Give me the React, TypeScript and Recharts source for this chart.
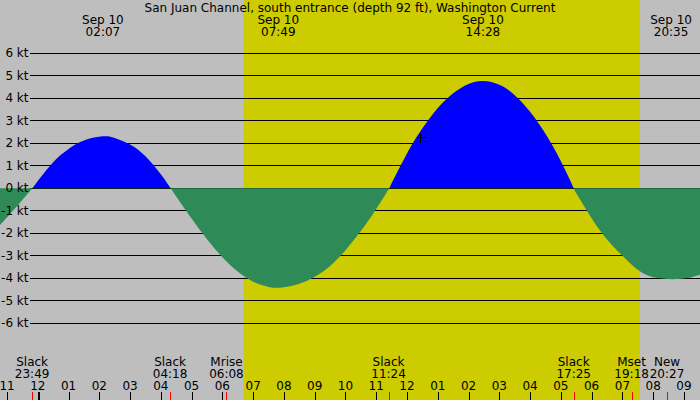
import {
  ComposedChart,
  Area,
  XAxis,
  YAxis,
  ReferenceArea,
  ReferenceLine,
  ReferenceDot,
} from 'recharts';

// hours relative to Sep 10 00:00, current in knots
const hours = [
  -1.2275, -0.9, -0.55, -0.178,
  0.0, 0.5, 1.0, 1.5, 2.12, 2.5, 3.0, 3.5, 4.0, 4.32,
  4.5, 5.0, 5.5, 6.0, 6.5, 7.0, 7.5, 7.775, 8.0, 8.5, 9.0, 9.5, 10.0, 10.5, 11.0, 11.424,
  11.5, 12.0, 12.5, 13.0, 13.5, 14.0, 14.479, 15.0, 15.5, 16.0, 16.5, 17.0, 17.418,
  17.5, 18.0, 18.5, 19.0, 19.25, 19.5, 19.75, 20.0, 20.3, 20.65, 21.0, 21.25, 21.522,
];
const knots = [
  -1.63, -1.14, -0.6, 0,
  0.32, 1.16, 1.75, 2.13, 2.31, 2.24, 1.95, 1.42, 0.62, 0,
  -0.36, -1.345, -2.26, -3.06, -3.7, -4.15, -4.385, -4.42, -4.4, -4.24, -3.93, -3.45, -2.75, -1.9, -0.92, 0,
  0.22, 1.55, 2.67, 3.57, 4.23, 4.64, 4.77, 4.6, 4.14, 3.4, 2.42, 1.2, 0,
  -0.22, -1.33, -2.27, -3.0, -3.33, -3.62, -3.83, -3.95, -4.01, -4.04, -4.01, -3.95, -3.84,
];

const hourTicks = [-1, 0, 1, 2, 3, 4, 5, 6, 7, 8, 9, 10, 11, 12, 13, 14, 15, 16, 17, 18, 19, 20, 21];
const hourLabels = ['11', '12', '01', '02', '03', '04', '05', '06', '07', '08', '09', '10', '11', '12', '01', '02', '03', '04', '05', '06', '07', '08', '09'];

const knotTicks = [-6, -5, -4, -3, -2, -1, 0, 1, 2, 3, 4, 5, 6];

const eventTimes = [-0.183, 4.3, 6.133, 11.4, 17.417, 19.3, 20.45];
const eventNames = ['Slack', 'Slack', 'Mrise', 'Slack', 'Slack', 'Mset', 'New'];
const eventClock = ['23:49', '04:18', '06:08', '11:24', '17:25', '19:18', '20:27'];

const extremeTimes = [2.117, 7.817, 14.467, 20.583];
const extremeClock = ['02:07', '07:49', '14:28', '20:35'];
const extremeDate = 'Sep 10';

const sunriseHour = 6.69;
const sunsetHour = 19.57;

const nowHour = 12.42;
const nowKnots = 2.28;

const TITLE = 'San Juan Channel, south entrance (depth 92 ft), Washington Current';

const W = 700;
const H = 400;
const X0 = -1.2275;
const X1 = 21.522;
const Y0 = -9.409;
const Y1 = 8.369;
const GRID_START = -0.2525;
const ZERO_FRAC = Y1 / (Y1 - Y0);

const FONT = { fontFamily: 'DejaVu Sans', fontSize: 12, fill: '#000' };

const data = hours.map((t, i) => ({ t, v: knots[i] }));

function HourTick(props: any) {
  const { x, payload } = props;
  const i = hourTicks.indexOf(payload.value);
  const px = Math.round(x) + 0.5;
  const midnight = payload.value === 0;
  return (
    <g>
      <text x={x} y={389.5} textAnchor="middle" {...FONT}>
        {hourLabels[i]}
      </text>
      <line
        x1={midnight ? px + 0.5 : px}
        x2={midnight ? px + 0.5 : px}
        y1={392}
        y2={400}
        stroke="#000"
        strokeWidth={midnight ? 2 : 1}
        shapeRendering="crispEdges"
      />
    </g>
  );
}

function EventTick(props: any) {
  const { x, payload } = props;
  const i = eventTimes.indexOf(payload.value);
  const px = Math.round(x) + 0.5;
  return (
    <g>
      <text x={x} y={366} textAnchor="middle" {...FONT}>
        {eventNames[i]}
      </text>
      <text x={x} y={377.5} textAnchor="middle" {...FONT}>
        {eventClock[i]}
      </text>
      <line x1={px} x2={px} y1={392} y2={400} stroke="#ff0000" strokeWidth={1} shapeRendering="crispEdges" />
    </g>
  );
}

function ExtremeTick(props: any) {
  const { x, payload } = props;
  const i = extremeTimes.indexOf(payload.value);
  return (
    <g>
      <text x={x} y={24} textAnchor="middle" {...FONT}>
        {extremeDate}
      </text>
      <text x={x} y={36} textAnchor="middle" {...FONT}>
        {extremeClock[i]}
      </text>
    </g>
  );
}

function KnotTick(props: any) {
  const { y, payload } = props;
  return (
    <text x={28.5} y={y + 4} textAnchor="end" {...FONT}>
      {`${payload.value} kt`}
    </text>
  );
}

function NowMarker(props: any) {
  const { cx, cy } = props;
  const x = Math.round(cx) + 0.5;
  const y = Math.round(cy) + 0.5;
  return (
    <g stroke="#000" strokeWidth={1} shapeRendering="crispEdges">
      <line x1={x - 4} x2={x + 5} y1={y} y2={y} />
      <line x1={x} x2={x} y1={y - 4} y2={y + 5} />
    </g>
  );
}

export default function App() {
  return (
    <div style={{ position: 'fixed', left: 0, top: 0, width: W, height: H, background: '#bebebe' }}>
      <ComposedChart width={W} height={H} data={data} margin={{ top: -1, right: 0, bottom: -2, left: -1 }}>
        <defs>
          <linearGradient id="flow" gradientUnits="userSpaceOnUse" x1="0" y1="0" x2="0" y2={H}>
            <stop offset={ZERO_FRAC} stopColor="#0000ff" />
            <stop offset={ZERO_FRAC} stopColor="#2e8b57" />
          </linearGradient>
        </defs>
        <XAxis
          xAxisId="hours"
          dataKey="t"
          type="number"
          domain={[X0, X1]}
          allowDataOverflow
          ticks={hourTicks}
          interval={0}
          height={1}
          axisLine={false}
          tickLine={false}
          tick={HourTick}
        />
        <XAxis
          xAxisId="events"
          dataKey="t"
          type="number"
          domain={[X0, X1]}
          allowDataOverflow
          ticks={eventTimes}
          interval={0}
          height={1}
          axisLine={false}
          tickLine={false}
          tick={EventTick}
        />
        <XAxis
          xAxisId="extremes"
          orientation="top"
          dataKey="t"
          type="number"
          domain={[X0, X1]}
          allowDataOverflow
          ticks={extremeTimes}
          interval={0}
          height={1}
          axisLine={false}
          tickLine={false}
          tick={ExtremeTick}
        />
        <YAxis
          type="number"
          domain={[Y0, Y1]}
          allowDataOverflow
          ticks={knotTicks}
          interval={0}
          width={1}
          axisLine={false}
          tickLine={false}
          tick={KnotTick}
        />
        <ReferenceArea
          xAxisId="hours"
          x1={sunriseHour}
          x2={sunsetHour}
          y1={Y0}
          y2={Y1}
          fill="#cccc00"
          fillOpacity={1}
          stroke="none"
          zIndex={-200}
        />
        {knotTicks.map((k) => (
          <ReferenceLine
            key={k}
            xAxisId="hours"
            segment={[
              { x: GRID_START, y: k },
              { x: X1, y: k },
            ]}
            stroke="#000"
            strokeWidth={1}
            shapeRendering="crispEdges"
            zIndex={-150}
          />
        ))}
        <Area
          xAxisId="hours"
          dataKey="v"
          type="natural"
          baseValue={0}
          stroke="none"
          fill="url(#flow)"
          fillOpacity={1}
          dot={false}
          activeDot={false}
          isAnimationActive={false}
        />
        <ReferenceDot
          xAxisId="hours"
          x={nowHour}
          y={nowKnots}
          shape={NowMarker}
          zIndex={600}
        />
        <text x={W / 2} y={12} textAnchor="middle" {...FONT}>
          {TITLE}
        </text>
      </ComposedChart>
    </div>
  );
}
